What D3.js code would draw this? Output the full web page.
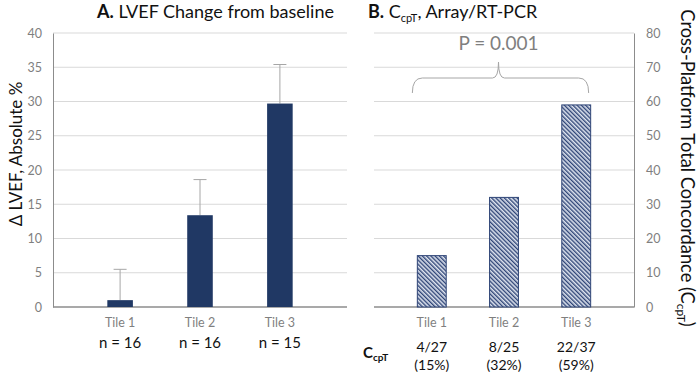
<!DOCTYPE html>
<html>
<head>
<meta charset="utf-8">
<script src="https://cdn.jsdelivr.net/npm/d3@7"></script>
<style>
  body { margin: 0; background: #fff; }
  svg { display: block; font-family: Lato, "Open Sans", sans-serif; }
</style>
</head>
<body>
<svg id="chart" width="699" height="372"></svg>
<script>
const tiles = ["Tile 1", "Tile 2", "Tile 3"];
const lvefChange = [1.0, 13.4, 29.7];
const lvefErrTop = [5.5, 18.6, 35.4];
const nLabels = ["n = 16", "n = 16", "n = 15"];
const leftTicks = [0, 5, 10, 15, 20, 25, 30, 35, 40];

const concordance = [15, 32, 59];
const ccptFractions = ["4/27", "8/25", "22/37"];
const ccptPercents = ["(15%)", "(32%)", "(59%)"];
const rightTicks = [0, 10, 20, 30, 40, 50, 60, 70, 80];
const pValue = "P = 0.001";

const navy = "#203864";
const grid = "#d9d9d9";
const axisCol = "#8c8c8c";
const tickCol = "#7f7f7f";

const svg = d3.select("#chart");

const defs = svg.append("defs");
const pat = defs.append("pattern")
  .attr("id", "hatch")
  .attr("patternUnits", "userSpaceOnUse")
  .attr("width", 3).attr("height", 3)
  .attr("patternTransform", "rotate(-45)");
pat.append("rect").attr("width", 3).attr("height", 3).attr("fill", "#dfe5f0");
pat.append("rect").attr("x", 0).attr("width", 1.4).attr("height", 3).attr("fill", "#2f4577");

const plotTop = 33, plotBottom = 307;

// ---------- panel A ----------
const xA = d3.scaleBand().domain(tiles).range([53, 347]).padding(0.68);
const yA = d3.scaleLinear().domain([0, 40]).range([plotBottom, plotTop]);

const gA = svg.append("g");
gA.selectAll(".grid").data(leftTicks.filter(d => d > 0)).enter().append("line")
  .attr("x1", 53).attr("x2", 347)
  .attr("y1", d => yA(d)).attr("y2", d => yA(d))
  .attr("stroke", grid).attr("stroke-width", 1);

const axA = gA.append("g").attr("transform", "translate(53,0)")
  .call(d3.axisLeft(yA).tickValues(leftTicks).tickSize(0).tickPadding(11));
axA.select(".domain").attr("stroke", axisCol);
axA.selectAll("text").attr("fill", tickCol).attr("font-size", 12.5).style("font-family", "Lato, sans-serif");

gA.append("line").attr("x1", 53).attr("x2", 347).attr("y1", plotBottom).attr("y2", plotBottom)
  .attr("stroke", axisCol).attr("stroke-width", 1.3);

gA.selectAll(".err").data(tiles).enter().append("line")
  .attr("x1", d => xA(d) + xA.bandwidth() / 2).attr("x2", d => xA(d) + xA.bandwidth() / 2)
  .attr("y1", (d, i) => yA(lvefChange[i])).attr("y2", (d, i) => yA(lvefErrTop[i]))
  .attr("stroke", "#a6a6a6");
gA.selectAll(".cap").data(tiles).enter().append("line")
  .attr("x1", d => xA(d) + xA.bandwidth() / 2 - 6.5).attr("x2", d => xA(d) + xA.bandwidth() / 2 + 6.5)
  .attr("y1", (d, i) => yA(lvefErrTop[i])).attr("y2", (d, i) => yA(lvefErrTop[i]))
  .attr("stroke", "#a6a6a6");

gA.selectAll(".bar").data(tiles).enter().append("rect")
  .attr("x", d => xA(d)).attr("width", xA.bandwidth())
  .attr("y", (d, i) => yA(lvefChange[i]))
  .attr("height", (d, i) => yA(0) - yA(lvefChange[i]))
  .attr("fill", navy);

gA.selectAll(".tl").data(tiles).enter().append("text")
  .attr("x", d => xA(d) + xA.bandwidth() / 2).attr("y", 327)
  .attr("text-anchor", "middle").attr("font-size", 12.5).attr("fill", tickCol)
  .text(d => d);
gA.selectAll(".nl").data(tiles).enter().append("text")
  .attr("x", d => xA(d) + xA.bandwidth() / 2).attr("y", 348)
  .attr("text-anchor", "middle").attr("font-size", 15).attr("fill", "#111")
  .text((d, i) => nLabels[i]);

svg.append("text")
  .attr("transform", "translate(22,154) rotate(-90)")
  .attr("text-anchor", "middle").attr("font-size", 17).attr("fill", "#111")
  .text("Δ LVEF, Absolute %");

const tA = svg.append("text").attr("x", 97).attr("y", 18).attr("font-size", 18).attr("fill", "#111");
tA.append("tspan").attr("font-weight", "bold").text("A.");
tA.append("tspan").text(" LVEF Change from baseline");

// ---------- panel B ----------
const xB = d3.scaleBand().domain(tiles).range([374, 634]).padding(0.6);
const yB = d3.scaleLinear().domain([0, 80]).range([plotBottom, plotTop]);

const gB = svg.append("g");
gB.selectAll(".grid").data(rightTicks.filter(d => d > 0)).enter().append("line")
  .attr("x1", 374).attr("x2", 634)
  .attr("y1", d => yB(d)).attr("y2", d => yB(d))
  .attr("stroke", grid).attr("stroke-width", 1);

const axB = gB.append("g").attr("transform", "translate(634,0)")
  .call(d3.axisRight(yB).tickValues(rightTicks).tickSize(0).tickPadding(12));
axB.select(".domain").attr("stroke", axisCol);
axB.selectAll("text").attr("fill", tickCol).attr("font-size", 12.5).style("font-family", "Lato, sans-serif");

gB.append("line").attr("x1", 374).attr("x2", 634).attr("y1", plotBottom).attr("y2", plotBottom)
  .attr("stroke", axisCol).attr("stroke-width", 1.3);

gB.selectAll(".bar").data(tiles).enter().append("rect")
  .attr("x", d => xB(d)).attr("width", xB.bandwidth())
  .attr("y", (d, i) => yB(concordance[i]))
  .attr("height", (d, i) => yB(0) - yB(concordance[i]))
  .attr("fill", "url(#hatch)").attr("stroke", "#2f4577").attr("stroke-width", 1);

gB.selectAll(".tl").data(tiles).enter().append("text")
  .attr("x", d => xB(d) + xB.bandwidth() / 2).attr("y", 327)
  .attr("text-anchor", "middle").attr("font-size", 12.5).attr("fill", tickCol)
  .text(d => d);
gB.selectAll(".fr").data(tiles).enter().append("text")
  .attr("x", d => xB(d) + xB.bandwidth() / 2).attr("y", 352)
  .attr("text-anchor", "middle").attr("font-size", 14).attr("fill", "#111")
  .text((d, i) => ccptFractions[i]);
gB.selectAll(".pc").data(tiles).enter().append("text")
  .attr("x", d => xB(d) + xB.bandwidth() / 2).attr("y", 369.5)
  .attr("text-anchor", "middle").attr("font-size", 14).attr("fill", "#111")
  .text((d, i) => ccptPercents[i]);

const cl = svg.append("text").attr("x", 363).attr("y", 358).attr("font-size", 15)
  .attr("font-weight", "bold").attr("fill", "#111");
cl.append("tspan").text("C");
cl.append("tspan").attr("font-size", 10).attr("dy", 3).text("cpT");

// brace from first to last bar
const bx1 = xB(tiles[0]) - 5, bx2 = xB(tiles[2]) + xB.bandwidth() - 2;
const bm = (bx1 + bx2) / 2 - 2;
const by = 78;
gB.append("path")
  .attr("d", `M${bx1},93 Q${bx1},${by} ${bx1 + 10},${by} L${bm - 6},${by} Q${bm},${by} ${bm},62 Q${bm},${by} ${bm + 6},${by} L${bx2 - 10},${by} Q${bx2},${by} ${bx2},93`)
  .attr("fill", "none").attr("stroke", "#a6a6a6").attr("stroke-width", 1);

gB.append("text").attr("x", bm).attr("y", 50)
  .attr("text-anchor", "middle").attr("font-size", 19).attr("fill", "#7f7f7f")
  .text(pValue);

const tB = svg.append("text").attr("x", 368).attr("y", 18).attr("font-size", 18).attr("fill", "#111");
tB.append("tspan").attr("font-weight", "bold").text("B.");
tB.append("tspan").text("  C");
tB.append("tspan").attr("font-size", 11).attr("dy", 4).text("cpT");
tB.append("tspan").attr("dy", -4).text(", Array/RT-PCR");

const yt = svg.append("text")
  .attr("transform", "translate(681,168) rotate(90)")
  .attr("text-anchor", "middle").attr("font-size", 18.3).attr("fill", "#111");
yt.append("tspan").text("Cross-Platform Total Concordance (C");
yt.append("tspan").attr("font-size", 12).attr("dy", 4).text("cpT");
yt.append("tspan").attr("dy", -4).text(")");
</script>
</body>
</html>
